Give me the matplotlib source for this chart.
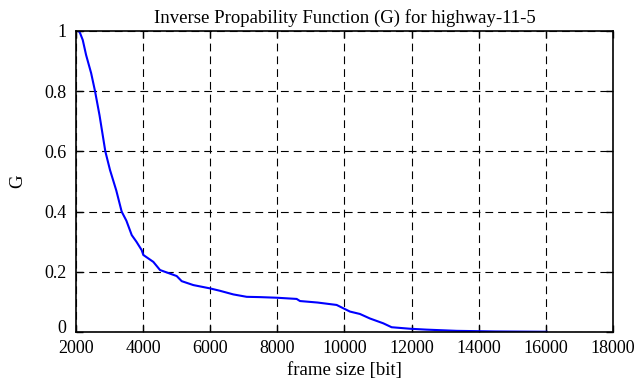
import matplotlib
matplotlib.use("Agg")
import matplotlib.pyplot as plt
import matplotlib.transforms as mtransforms

# inverse probability curve
frame_size = [2080, 2120, 2200, 2300, 2450, 2566, 2700, 2873, 3013, 3200,
              3360, 3500, 3660, 3800, 3957, 4006, 4304, 4503, 5000, 5150,
              5496, 5993, 6291, 6688, 7086, 7483, 7980, 8576, 8675, 9200,
              9768, 9966, 10165, 10463, 10761, 11158, 11407, 11952, 12450,
              13344, 14500, 16026]
G = [1.0, 0.993, 0.97, 0.92, 0.86, 0.80, 0.72, 0.60, 0.538, 0.47,
     0.40, 0.37, 0.322, 0.30, 0.272, 0.256, 0.233, 0.206, 0.186, 0.169,
     0.156, 0.145, 0.137, 0.125, 0.117, 0.116, 0.114, 0.110, 0.103, 0.098,
     0.090, 0.079, 0.068, 0.060, 0.045, 0.029, 0.016, 0.011, 0.008,
     0.004, 0.002, 0.001]

xticks = [2000, 4000, 6000, 8000, 10000, 12000, 14000, 16000, 18000]
yticks = [0, 0.2, 0.4, 0.6, 0.8, 1]
ytick_labels = ["0", "0.2", "0.4", "0.6", "0.8", "1"]

plt.rcParams['font.family'] = 'Liberation Serif'
plt.rcParams['font.size'] = 13.5

fig = plt.figure(figsize=(6.39, 3.87), dpi=100)
ax = fig.add_axes([0.119, 0.142, 0.840, 0.778])

ax.plot(frame_size, G, color='#0000ff', lw=1.5)

ax.set_xlim(2000, 18000)
ax.set_ylim(0, 1)
ax.set_xticks(xticks)
ax.set_yticks(yticks)
ax.set_yticklabels(ytick_labels)
ax.grid(True, color='black', linestyle=(0, (7, 4.5)), lw=0.8)
ax.tick_params(direction='in', top=True, right=True, length=5, width=1,
               labelsize=13)
ax.tick_params(axis='x', pad=6)
ax.tick_params(axis='y', pad=7)
for s in ax.spines.values():
    s.set_linewidth(1.2)

# nudge the "0" label up so it clears the "2000" below it
lbl0 = ax.get_yticklabels()[0]
lbl0.set_transform(lbl0.get_transform() +
                   mtransforms.ScaledTranslation(0, 4 / 72, fig.dpi_scale_trans))

ax.set_title("Inverse Propability Function (G) for highway-11-5", fontsize=13.5, pad=6)
ax.set_xlabel("frame size [bit]", labelpad=3)
ax.set_ylabel("G", labelpad=13)

fig.savefig("out.png", dpi=100)
